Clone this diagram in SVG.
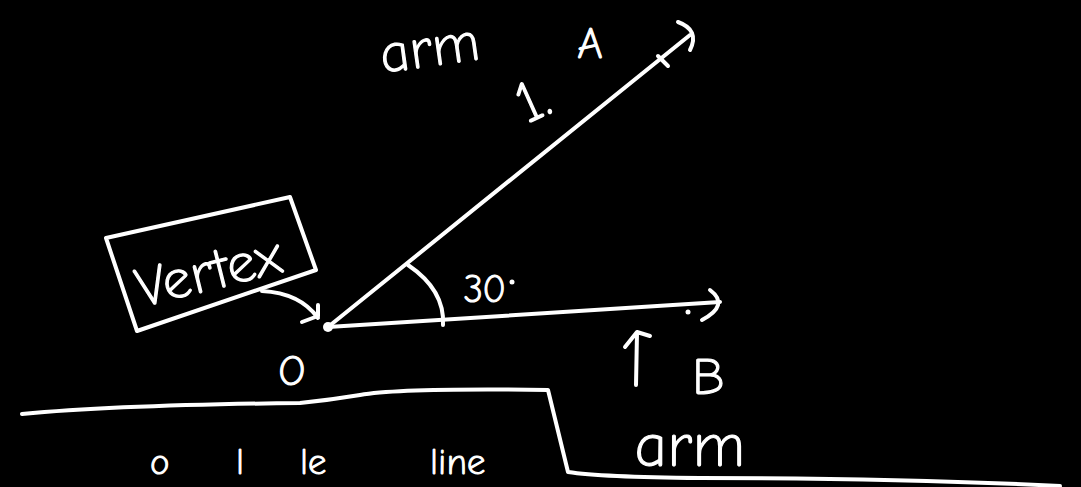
<svg xmlns="http://www.w3.org/2000/svg" width="1081" height="487" viewBox="0 0 1081 487">
<style>
.s{fill:none;stroke:#fff;stroke-width:4;stroke-linecap:round;stroke-linejoin:round}
.t{fill:#fff;stroke:#fff;stroke-width:1.2;font-family:"Comic Neue","DejaVu Sans",sans-serif;font-weight:300}
</style>
<rect width="1081" height="487" fill="#000"/>
<g id="connectors">
<path class="s" d="M328,327 L690,35"/>
<path class="s" d="M678,22 Q700,30 690,50"/>
<path class="s" d="M658,56 L668,66"/>
<path class="s" d="M328,327 L720,302"/>
<path class="s" d="M710,290 Q730,305 702,320"/>
<circle cx="688" cy="312" r="2.5" fill="#fff"/>
<path class="s" d="M408,265 Q445,290 443,325"/>
<path class="s" d="M262,291 Q300,293 318,318"/>
<path class="s" d="M302,322 L318,316 L318,305"/>
<path class="s" d="M636,385 L637,333 M625,347 L637,332 L650,336"/>
<path class="s" d="M22,414 Q120,405 300,403 Q330,400 360,395 Q400,388 548,390 L568,472 Q600,477 700,478 Q900,478 1060,486"/>
</g>
<g id="vertex">
<circle cx="328" cy="327" r="5" fill="#fff"/>
<text class="t" x="292" y="385" font-size="42" text-anchor="middle">O</text>
</g>
<g id="vertex-label">
<path class="s" d="M106,238 L290,197 L316,270 L137,331 Z"/>
<text class="t" x="208" y="290" font-size="56" text-anchor="middle" transform="rotate(-14 208 270)">Vertex</text>
</g>
<g id="angle">
<text class="t" x="464" y="302" font-size="38">30</text>
<circle cx="512" cy="282" r="2.5" fill="#fff"/>
</g>
<g id="arm-top">
<text class="t" x="430" y="66" font-size="56" text-anchor="middle" transform="rotate(-8 430 50)">arm</text>
<text class="t" x="590" y="58" font-size="44" text-anchor="middle">A</text>
<text class="t" x="530" y="120" font-size="58" text-anchor="middle" transform="rotate(-25 530 95)">1.</text>
</g>
<g id="point-B">
<text class="t" x="708" y="394" font-size="52" text-anchor="middle">B</text>
</g>
<g id="arm-bottom">
<text class="t" x="690" y="466" font-size="62" text-anchor="middle">arm</text>
<text class="t" y="474" font-size="36"><tspan x="150">o</tspan><tspan x="236">l</tspan><tspan x="300">le</tspan><tspan x="430">line</tspan></text>
</g>
</svg>
